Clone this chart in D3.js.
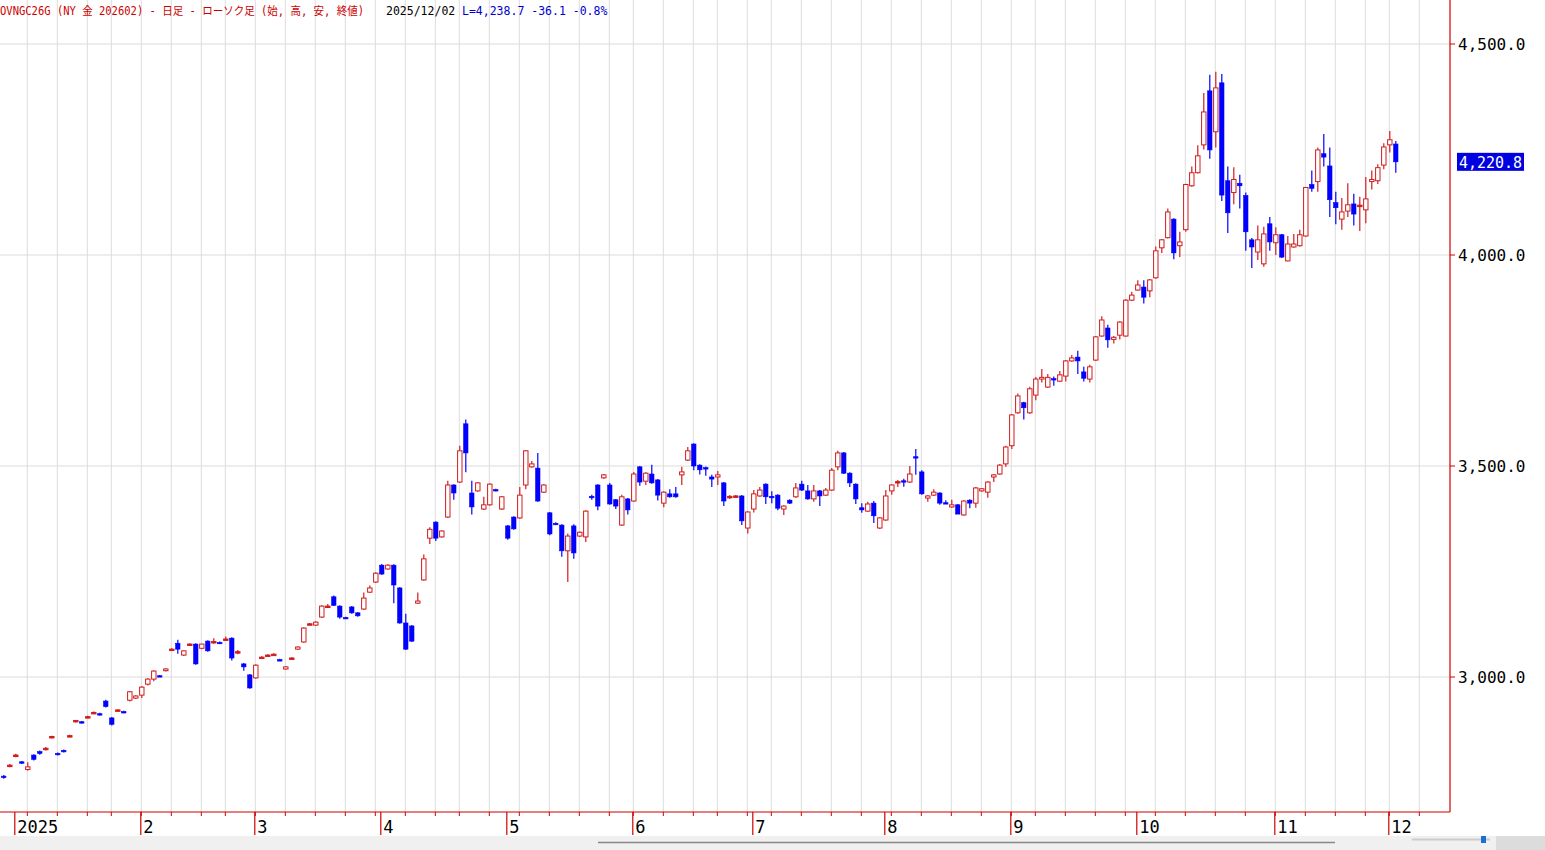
<!DOCTYPE html>
<html>
<head>
<meta charset="utf-8">
<script src="https://cdn.jsdelivr.net/npm/d3@7"></script>
<style>
  body { margin: 0; background: #fff; }
  svg { display: block; }
</style>
</head>
<body>
<svg id="chart" width="1545" height="850"></svg>
<script>
// [open, high, low, close] per trading day, grouped by month
const dec2024 = [[2765,2768,2759,2762],[2788,2794,2786,2791]];
const jan = [[2812,2818,2810,2815],[2799,2801,2794,2796],[2781,2798,2778,2787],[2815,2817,2802,2805],[2823,2826,2816,2819],[2829,2834,2826,2831],[2856,2861,2854,2859],[2819,2821,2814,2816],[2826,2828,2821,2823],[2859,2863,2857,2861],[2895,2898,2892,2897],[2894,2896,2890,2892],[2904,2908,2902,2906],[2914,2918,2912,2916],[2913,2915,2909,2911],[2943,2946,2928,2930],[2903,2905,2885,2888],[2920,2923,2918,2922],[2918,2920,2914,2916],[2945,2967,2942,2965],[2950,2957,2948,2955]];
const feb = [[2957,2978,2950,2976],[2983,2997,2980,2995],[2995,3016,2990,3014],[3003,3005,3000,3002],[3015,3021,3013,3019],[3065,3068,3063,3066],[3080,3088,3055,3066],[3052,3063,3050,3062],[3077,3080,3075,3078],[3078,3080,3029,3031],[3068,3079,3066,3078],[3085,3087,3060,3062],[3081,3092,3079,3084],[3082,3084,3078,3080],[3089,3096,3088,3090],[3092,3094,3039,3045],[3058,3064,3054,3060],[3031,3033,3015,3024],[3005,3007,2972,2974]];
const mar = [[2998,3030,2996,3028],[3046,3049,3044,3047],[3051,3054,3050,3052],[3053,3056,3052,3054],[3041,3043,3038,3040],[3019,3026,3017,3024],[3044,3047,3043,3045],[3066,3073,3064,3071],[3083,3118,3081,3116],[3125,3128,3123,3126],[3123,3132,3121,3130],[3142,3170,3140,3168],[3167,3173,3164,3168],[3190,3193,3168,3170],[3168,3170,3138,3142],[3141,3143,3138,3140],[3166,3168,3150,3152],[3152,3154,3143,3145],[3161,3200,3159,3187],[3201,3217,3199,3211],[3225,3248,3223,3246]];
const apr = [[3265,3268,3242,3244],[3256,3267,3254,3265],[3265,3267,3175,3218],[3211,3213,3126,3128],[3128,3150,3064,3066],[3121,3123,3083,3085],[3175,3200,3173,3180],[3230,3290,3228,3280],[3329,3355,3315,3350],[3367,3369,3322,3329],[3332,3348,3330,3346],[3379,3465,3377,3455],[3455,3457,3420,3436],[3462,3548,3460,3536],[3600,3610,3485,3531],[3436,3465,3385,3403],[3441,3462,3439,3460],[3398,3427,3396,3408],[3408,3459,3406,3457],[3444,3446,3440,3443],[3398,3429,3396,3427]];
const may = [[3358,3360,3325,3329],[3379,3381,3349,3351],[3377,3450,3375,3431],[3455,3538,3445,3536],[3498,3512,3496,3505],[3495,3531,3415,3417],[3438,3457,3436,3455],[3389,3391,3336,3339],[3364,3367,3360,3363],[3360,3362,3285,3299],[3299,3340,3225,3334],[3358,3362,3280,3294],[3334,3345,3332,3343],[3332,3395,3320,3393],[3428,3432,3420,3426],[3455,3457,3395,3405],[3472,3481,3470,3479],[3455,3460,3408,3410],[3420,3422,3398,3405],[3360,3432,3358,3427],[3422,3424,3385,3396]];
const jun = [[3417,3486,3415,3481],[3498,3500,3453,3462],[3464,3485,3455,3483],[3481,3503,3458,3460],[3467,3469,3418,3431],[3412,3440,3402,3438],[3434,3445,3425,3427],[3434,3450,3425,3427],[3479,3498,3455,3486],[3514,3545,3512,3536],[3552,3554,3490,3500],[3502,3504,3480,3491],[3496,3499,3477,3494],[3474,3479,3450,3469],[3474,3488,3455,3479],[3460,3462,3405,3417],[3426,3431,3422,3428],[3427,3431,3424,3429],[3429,3431,3360,3370],[3353,3393,3340,3391]];
const jul = [[3398,3443,3390,3434],[3429,3450,3427,3443],[3457,3459,3410,3427],[3428,3440,3412,3427],[3431,3433,3395,3400],[3398,3407,3384,3405],[3419,3421,3410,3412],[3427,3460,3425,3448],[3457,3465,3441,3443],[3441,3455,3420,3422],[3422,3455,3415,3441],[3441,3443,3405,3429],[3431,3448,3429,3443],[3443,3495,3441,3490],[3498,3536,3490,3531],[3531,3533,3481,3483],[3483,3485,3450,3460],[3457,3459,3410,3422],[3401,3412,3389,3396],[3393,3415,3391,3410],[3412,3417,3365,3382],[3353,3379,3351,3377]];
const aug = [[3372,3443,3370,3429],[3441,3457,3432,3455],[3461,3467,3450,3463],[3465,3470,3451,3463],[3462,3500,3460,3481],[3522,3540,3479,3520],[3486,3490,3432,3434],[3424,3431,3415,3429],[3431,3445,3429,3438],[3436,3438,3408,3412],[3413,3419,3411,3412],[3403,3420,3401,3408],[3408,3410,3386,3386],[3384,3419,3382,3417],[3419,3421,3400,3412],[3412,3450,3401,3448],[3441,3448,3439,3446],[3438,3464,3425,3462],[3474,3481,3462,3479],[3481,3505,3479,3502],[3505,3548,3498,3545]];
const sep = [[3548,3623,3540,3621],[3626,3672,3624,3666],[3650,3652,3610,3638],[3626,3688,3624,3683],[3668,3711,3656,3706],[3706,3730,3698,3710],[3687,3718,3685,3710],[3707,3712,3690,3705],[3701,3725,3699,3716],[3713,3751,3700,3749],[3749,3763,3747,3756],[3758,3773,3718,3749],[3723,3735,3700,3708],[3706,3740,3698,3735],[3751,3808,3749,3806],[3808,3855,3806,3846],[3827,3835,3780,3799],[3800,3808,3790,3805],[3810,3843,3800,3841],[3808,3895,3806,3893],[3893,3913,3891,3905]];
const oct = [[3917,3940,3915,3929],[3924,3940,3885,3900],[3915,3943,3900,3941],[3946,4020,3944,4010],[4017,4038,4005,4036],[4041,4110,4039,4102],[4085,4087,3990,4005],[4022,4055,3995,4031],[4060,4169,4055,4167],[4164,4210,4162,4195],[4195,4260,4193,4235],[4261,4384,4250,4339],[4389,4427,4228,4249],[4292,4434,4255,4396],[4408,4429,4128,4142],[4176,4210,4052,4100],[4148,4208,4120,4179],[4170,4190,4110,4164],[4141,4148,4010,4055],[4036,4040,3969,4019],[4007,4070,3988,4036],[3979,4067,3972,4050],[4074,4090,4010,4031]];
const nov = [[4029,4066,4000,4048],[4048,4050,3993,3995],[3986,4045,3985,4026],[4019,4050,4017,4026],[4022,4060,4020,4048],[4045,4161,4043,4160],[4167,4200,4150,4158],[4174,4255,4150,4249],[4240,4287,4210,4232],[4211,4255,4090,4131],[4124,4150,4073,4112],[4085,4135,4060,4102],[4104,4170,4090,4119],[4121,4145,4070,4097],[4116,4138,4057,4118],[4107,4185,4075,4133],[4174,4200,4155,4179],[4176,4215,4168,4207],[4213,4265,4203,4256]];
const dec2025 = [[4261,4294,4243,4273],[4263,4270,4195,4220.8]];

const holidays = ["2025-01-01","2025-01-20","2025-02-17","2025-04-18","2025-05-26","2025-06-19","2025-07-04","2025-09-01","2025-11-27","2025-12-25"];
const priceTicks = [3000, 3500, 4000, 4500];
const lastPrice = 4220.8;

const candles = [].concat(dec2024, jan, feb, mar, apr, may, jun, jul, aug, sep, oct, nov, dec2025);

// trading calendar
const fmt = d3.timeFormat("%Y-%m-%d");
const allDays = d3.timeDays(new Date(2024, 11, 30), new Date(2025, 11, 31))
  .filter(d => d.getDay() !== 0 && d.getDay() !== 6 && !holidays.includes(fmt(d)));
const data = candles.map((c, i) => ({ i, date: allDays[i], o: c[0], h: c[1], l: c[2], c: c[3] }));

const svg = d3.select("#chart");
const plotRight = 1450, plotBottom = 812;
const x = d3.scaleLinear().domain([0, 232]).range([3.3, 1395.3]);
const y = d3.scaleLinear().domain([3000, 4500]).range([677, 44]);

const red = "#d01c1c", blue = "#0000ff", axisRed = "#d00000";

// week and month markers
const weekIdx = [], monthIdx = [];
allDays.forEach((d, i) => {
  if (i === 0) return;
  const p = allDays[i - 1];
  if (d.getDay() < p.getDay() || (d - p) > 5 * 864e5) weekIdx.push(i);
  if (d.getMonth() !== p.getMonth()) monthIdx.push(i);
});

const grid = svg.append("g");
grid.selectAll("line.v").data(weekIdx.filter(i => x(i) < plotRight - 4)).enter().append("line")
  .attr("x1", d => x(d)).attr("x2", d => x(d)).attr("y1", 0).attr("y2", plotBottom)
  .attr("stroke", "#dcdcdc").attr("stroke-width", 1);
grid.selectAll("line.h").data(priceTicks).enter().append("line")
  .attr("x1", 0).attr("x2", plotRight).attr("y1", d => y(d)).attr("y2", d => y(d))
  .attr("stroke", "#dcdcdc");

// candles
const g = svg.append("g");
g.selectAll("line.wick").data(data).enter().append("line")
  .attr("x1", d => x(d.i) + 0.5).attr("x2", d => x(d.i) + 0.5)
  .attr("y1", d => y(d.h)).attr("y2", d => y(d.l))
  .attr("stroke", d => d.c >= d.o ? red : blue).attr("stroke-width", 1.2);
g.selectAll("rect.body").data(data).enter().append("rect")
  .attr("x", d => x(d.i) - 1.7)
  .attr("y", d => y(Math.max(d.o, d.c)))
  .attr("width", 4.4)
  .attr("height", d => Math.max(1.4, y(Math.min(d.o, d.c)) - y(Math.max(d.o, d.c))))
  .attr("fill", d => d.c >= d.o ? (Math.abs(d.c - d.o) < 4 ? red : "#fff") : blue)
  .attr("stroke", d => d.c >= d.o ? red : blue)
  .attr("stroke-width", d => d.c >= d.o ? 1 : 0.6);

// axes frame
svg.append("line").attr("x1", 0).attr("x2", plotRight).attr("y1", plotBottom).attr("y2", plotBottom)
  .attr("stroke", axisRed).attr("stroke-width", 1.2);
svg.append("line").attr("x1", plotRight).attr("x2", plotRight).attr("y1", 0).attr("y2", plotBottom)
  .attr("stroke", axisRed).attr("stroke-width", 1.2);

// bottom ticks
svg.selectAll("line.wt").data(weekIdx.filter(i => x(i) < plotRight - 4)).enter().append("line")
  .attr("x1", d => x(d)).attr("x2", d => x(d)).attr("y1", plotBottom).attr("y2", plotBottom + 4)
  .attr("stroke", axisRed);
const monthTicks = [2].concat(monthIdx.filter(i => i > 2 && i <= 232));
svg.selectAll("line.mt").data(monthTicks).enter().append("line")
  .attr("x1", d => x(d) - 0.5).attr("x2", d => x(d) - 0.5).attr("y1", plotBottom).attr("y2", 835)
  .attr("stroke", axisRed).attr("stroke-width", 1.2);
svg.selectAll("text.ml").data(monthTicks).enter().append("text")
  .attr("x", d => x(d) + 2).attr("y", 833)
  .attr("font-family", "'DejaVu Sans Mono', monospace").attr("font-size", 17)
  .attr("fill", "#000")
  .text(d => allDays[d].getMonth() === 0 ? "2025" : String(allDays[d].getMonth() + 1));

// right axis labels
const fmtP = d3.format(",.1f");
svg.selectAll("line.yt").data(priceTicks).enter().append("line")
  .attr("x1", plotRight).attr("x2", plotRight + 5).attr("y1", d => y(d)).attr("y2", d => y(d))
  .attr("stroke", axisRed);
svg.selectAll("text.yl").data(priceTicks).enter().append("text")
  .attr("x", 1458).attr("y", d => y(d) + 6)
  .attr("font-family", "'DejaVu Sans Mono', monospace").attr("font-size", 16)
  .attr("fill", "#000").text(d => fmtP(d));
svg.append("rect").attr("x", 1457).attr("y", y(lastPrice) - 9).attr("width", 67).attr("height", 18)
  .attr("fill", "#0000e0");
svg.append("text").attr("x", 1459).attr("y", y(lastPrice) + 6)
  .attr("font-family", "'DejaVu Sans Mono', monospace").attr("font-size", 16)
  .attr("textLength", 63).attr("lengthAdjust", "spacingAndGlyphs")
  .attr("fill", "#fff").text(fmtP(lastPrice));

// header
const hf = "'DejaVu Sans Mono', 'Noto Sans CJK JP', monospace";
svg.append("text").attr("x", 0).attr("y", 15).attr("font-family", hf).attr("font-size", 11.5)
  .attr("textLength", 364).attr("lengthAdjust", "spacingAndGlyphs")
  .attr("fill", "#cc0000").text("OVNGC26G (NY 金 202602) - 日足 - ローソク足 (始, 高, 安, 終値)");
svg.append("text").attr("x", 386).attr("y", 15).attr("font-family", hf).attr("font-size", 11.5)
  .attr("fill", "#000").text("2025/12/02");
svg.append("text").attr("x", 462).attr("y", 15).attr("font-family", hf).attr("font-size", 11.5)
  .attr("fill", "#0000cc").text("L=4,238.7  -36.1   -0.8%");

// bottom scroll bar strip
svg.append("rect").attr("x", 0).attr("y", 836).attr("width", 1545).attr("height", 14).attr("fill", "#f0f0f0");
svg.append("line").attr("x1", 598).attr("x2", 1335).attr("y1", 842.5).attr("y2", 842.5)
  .attr("stroke", "#888").attr("stroke-width", 1.5);
svg.append("line").attr("x1", 1412).attr("x2", 1490).attr("y1", 839.5).attr("y2", 839.5)
  .attr("stroke", "#ccc").attr("stroke-width", 2);
svg.append("rect").attr("x", 1481).attr("y", 836).attr("width", 5).attr("height", 7).attr("fill", "#1c6fd8");
svg.append("rect").attr("x", 1496).attr("y", 836).attr("width", 49).attr("height", 14).attr("fill", "#dcdcdc");
</script>
</body>
</html>
